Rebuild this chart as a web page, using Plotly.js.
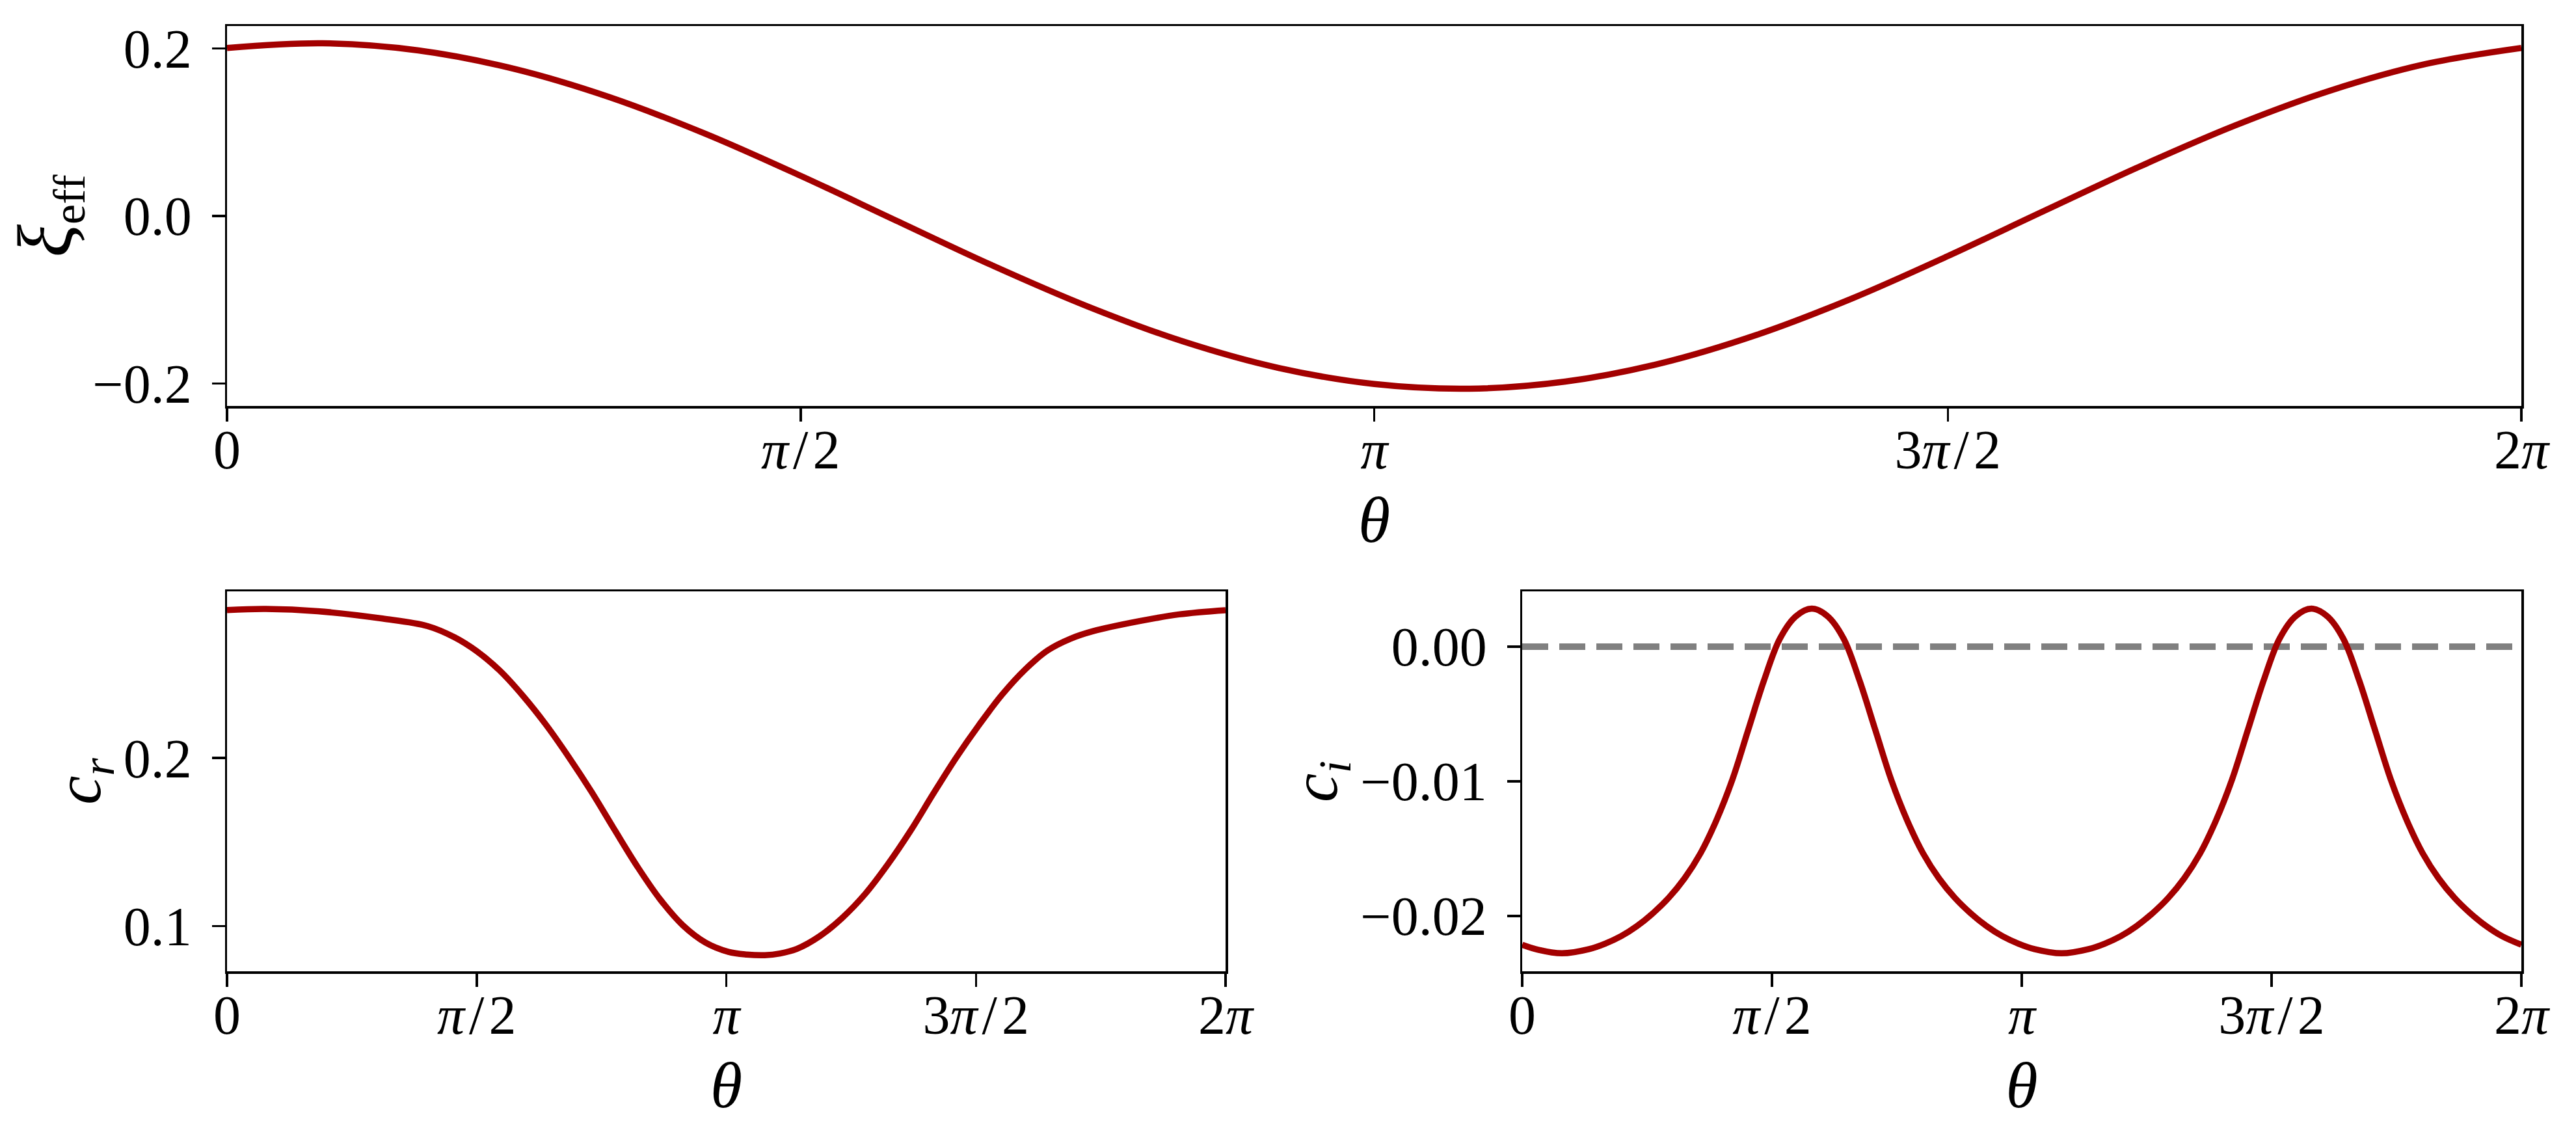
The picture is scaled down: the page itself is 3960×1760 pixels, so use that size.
<!DOCTYPE html>
<html>
<head>
<meta charset="utf-8">
<script src="https://cdn.plot.ly/plotly-3.0.1.min.js"></script>
<style>html,body{margin:0;padding:0;background:#fff;}#plot{width:3960px;height:1760px;}</style>
</head>
<body>
<div id="plot"></div>
<script>
// ---- data ----
const thetaXi = [0, 0.262, 0.524, 0.785, 1.047, 1.309, 1.571, 1.833, 2.094, 2.356, 2.618, 2.880, 3.142,
                 3.403, 3.665, 3.927, 4.189, 4.451, 4.712, 4.974, 5.236, 5.498, 5.760, 6.021, 6.2832];
const xiEff = [0.2008, 0.2064, 0.1979, 0.1760, 0.1421, 0.0984, 0.0480, -0.0056, -0.0587, -0.1079, -0.1499, -0.1816, -0.2008,
               -0.2064, -0.1979, -0.1760, -0.1421, -0.0984, -0.0480, 0.0056, 0.0587, 0.1079, 0.1499, 0.1816, 0.2008];

const thetaCr = [0, 0.244, 0.570, 0.978, 1.263, 1.433, 1.571, 1.720, 1.863, 2.007, 2.150, 2.294, 2.437, 2.581, 2.724,
                 2.868, 3.011, 3.155, 3.270, 3.384, 3.480, 3.585, 3.728, 3.872, 4.015, 4.159, 4.302, 4.446, 4.589, 4.733, 4.876,
                 5.020, 5.163, 5.307, 5.450, 5.737, 5.990, 6.2832];
const cR = [0.2881, 0.2887, 0.2874, 0.2830, 0.2785, 0.2718, 0.2636, 0.2517, 0.2369, 0.2198, 0.2006, 0.1798, 0.1575, 0.1355, 0.1160,
            0.1004, 0.0901, 0.0846, 0.0830, 0.0826, 0.0836, 0.0863, 0.0938, 0.1049, 0.1190, 0.1368, 0.1568, 0.1790, 0.2003, 0.2198, 0.2376,
            0.2525, 0.2640, 0.2710, 0.2755, 0.2814, 0.2855, 0.2880];

const thetaCi = [0, 0.100, 0.250, 0.421, 0.521, 0.621, 0.721, 0.821, 0.921, 1.021, 1.121, 1.221, 1.321, 1.421, 1.521,
                 1.621, 1.721, 1.821, 1.921, 2.021, 2.121, 2.221, 2.321, 2.421, 2.521, 2.621, 2.721, 2.821, 2.921,
                 3.021, 3.121, 3.221, 3.392, 3.562, 3.663, 3.763, 3.863, 3.963, 4.063, 4.163, 4.263, 4.363, 4.463,
                 4.563, 4.663, 4.763, 4.863, 4.963, 5.063, 5.163, 5.263, 5.363, 5.463, 5.563, 5.663, 5.763, 5.863,
                 5.963, 6.063, 6.163, 6.2832];
const cI = [-0.02213, -0.02250, -0.02276, -0.02245, -0.02205, -0.02150, -0.02075, -0.01980, -0.01865, -0.01720, -0.01535,
            -0.01290, -0.00990, -0.00620, -0.00250, 0.00060, 0.00225, 0.00282, 0.00225, 0.00060, -0.00250, -0.00620,
            -0.00990, -0.01290, -0.01535, -0.01720, -0.01865, -0.01980, -0.02075, -0.02150, -0.02205, -0.02245, -0.02276,
            -0.02245, -0.02205, -0.02150, -0.02075, -0.01980, -0.01865, -0.01720, -0.01535, -0.01290, -0.00990, -0.00620,
            -0.00250, 0.00060, 0.00225, 0.00282, 0.00225, 0.00060, -0.00250, -0.00620, -0.00990, -0.01290, -0.01535,
            -0.01720, -0.01865, -0.01980, -0.02075, -0.02150, -0.02213];

const refX = [0, 2 * Math.PI];
const refY = [0, 0];

const xTickVals = [0, Math.PI / 2, Math.PI, 3 * Math.PI / 2, 2 * Math.PI];
const xTickText = ['0', '<i>π</i>\u200A/\u200A2', '<i>π</i>', '3<i>π</i>\u200A/\u200A2', '2<i>π</i>'];
const yTopVals = [-0.2, 0.0, 0.2];
const yTopText = ['\u22120.2', '0.0', '0.2'];
const yCrVals = [0.1, 0.2];
const yCrText = ['0.1', '0.2'];
const yCiVals = [-0.02, -0.01, 0.0];
const yCiText = ['\u22120.02', '\u22120.01', '0.00'];

// ---- styling ----
const RED = '#a30000';
const FONT = 'Liberation Serif, Times New Roman, serif';
const W = 3960, H = 1760;
function fx(px) { return px / W; }
function fy(py) { return 1 - py / H; }

const baseAxis = {
  showgrid: false, zeroline: false, showline: true, linecolor: '#000', linewidth: 3.5,
  mirror: true, ticks: 'outside', ticklen: 20, tickwidth: 3.5, tickcolor: '#000',
  tickfont: {family: FONT, size: 84, color: '#000'}
};
function xAxis(domain, anchor) {
  return Object.assign({}, baseAxis, {
    domain: domain, anchor: anchor, range: [0, 2 * Math.PI], tickmode: 'array', tickvals: xTickVals, ticktext: xTickText,
    ticklabelstandoff: -28,
    title: {text: '<i>θ</i>', font: {family: FONT, size: 100, color: '#000'}, standoff: 26}
  });
}
function yAxis(domain, range, vals, text, title, standoff, anchor) {
  return Object.assign({}, baseAxis, {
    domain: domain, range: range, tickmode: 'array', tickvals: vals, ticktext: text, anchor: anchor,
    ticklabelstandoff: 14,
    title: {text: title, font: {family: FONT, size: 100, color: '#000'}, standoff: standoff}
  });
}

const traces = [
  {x: thetaXi, y: xiEff, xaxis: 'x', yaxis: 'y', mode: 'lines', line: {color: RED, width: 9.5, shape: 'spline'}, hoverinfo: 'skip'},
  {x: thetaCr, y: cR, xaxis: 'x2', yaxis: 'y2', mode: 'lines', line: {color: RED, width: 9.5, shape: 'spline'}, hoverinfo: 'skip'},
  {x: refX, y: refY, xaxis: 'x3', yaxis: 'y3', mode: 'lines', line: {color: '#808080', width: 10, dash: '40px,17px'}, hoverinfo: 'skip'},
  {x: thetaCi, y: cI, xaxis: 'x3', yaxis: 'y3', mode: 'lines', line: {color: RED, width: 9.5, shape: 'spline'}, hoverinfo: 'skip'}
];

const layout = {
  width: W, height: H, showlegend: false,
  paper_bgcolor: '#fff', plot_bgcolor: '#fff',
  margin: {l: 0, r: 0, t: 0, b: 0},
  font: {family: FONT, color: '#000'},
  xaxis: xAxis([fx(349), fx(3876)], 'y'),
  yaxis: yAxis([fy(624), fy(40)], [-0.227, 0.227], yTopVals, yTopText,
               '<span style="font-size:118px"><i>ξ</i></span><sub>eff</sub>', 0, 'x'),
  xaxis2: xAxis([fx(349), fx(1884)], 'y2'),
  yaxis2: yAxis([fy(1493), fy(909)], [0.0730, 0.2992], yCrVals, yCrText, '<i>c</i><sub><i>r</i></sub>', 0, 'x2'),
  xaxis3: xAxis([fx(2340), fx(3876)], 'y3'),
  yaxis3: yAxis([fy(1493), fy(909)], [-0.0241, 0.0041], yCiVals, yCiText, '<i>c</i><sub><i>i</i></sub>', 0, 'x3')
};

Plotly.newPlot('plot', traces, layout, {staticPlot: true, displayModeBar: false});
</script>
</body>
</html>
